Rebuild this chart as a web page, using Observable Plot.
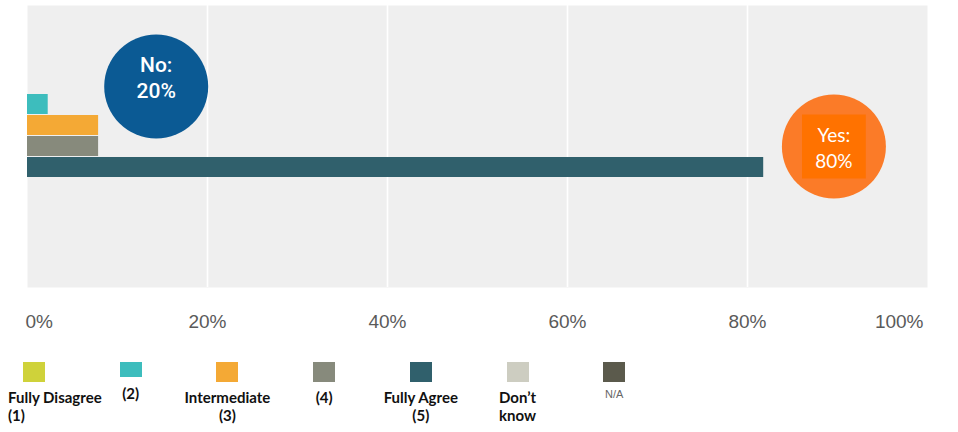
<!DOCTYPE html>
<html>
<head>
<meta charset="utf-8">
<script src="https://cdn.jsdelivr.net/npm/d3@7"></script>
<script src="https://cdn.jsdelivr.net/npm/@observablehq/plot@0.6"></script>
<style>
  html, body { margin: 0; padding: 0; background: #fff; }
  #chart { width: 958px; }
  #legend { position: relative; width: 958px; height: 87px; }
  .sw { position: absolute; top: 17px; width: 22px; height: 20px; }
  .lab { position: absolute; top: 43px; width: 130px; text-align: center;
         font-family: Lato, "Open Sans", sans-serif; font-weight: 700; font-size: 15px;
         line-height: 18px; color: #111; white-space: pre; }
</style>
</head>
<body>
<div id="chart"></div>
<div id="legend"></div>
<script>
// ---- data ----
const categories = ["Fully Disagree (1)", "(2)", "Intermediate (3)", "(4)", "Fully Agree (5)", "Don't know", "N/A"];
const legendLabels = ["Fully Disagree\n(1)", "(2)", "Intermediate\n(3)", "(4)", "Fully Agree\n(5)", "Don’t\nknow", "N/A"];
const values = [0, 2.3, 7.9, 7.9, 81.8, 0, 0];
const colors = ["#cfd23a", "#3dbdbd", "#f4a935", "#878a7c", "#30606c", "#cdcdc1", "#5b5a4c"];
const xTicks = [0, 20, 40, 60, 80, 100];
const gridTicks = [20, 40, 60, 80];
const callouts = [
  {label: "No:\n20%", x: 14.3, row: "Fully Disagree (1)"},
  {label: "Yes:\n80%", x: 89.6, row: "(4)"}
];

const rows = categories.map((c, i) => ({category: c, value: values[i]}));

const fmt = d => d + "%";
const axisStyle = {tickSize: 0, tickPadding: 27, fontSize: 19, fontWeight: 500, fill: "#5a5a5a", fontFamily: "'Liberation Sans', Arial, sans-serif", tickFormat: fmt, label: null};

const plot = Plot.plot({
  width: 958,
  height: 345,
  marginTop: 5,
  marginBottom: 58,
  marginLeft: 27,
  marginRight: 31,
  style: {background: "#fff", fontFamily: "'Liberation Sans', Arial, sans-serif"},
  x: {domain: [0, 100], axis: null},
  y: {domain: categories, axis: null, paddingInner: 0.06, paddingOuter: 3.12},
  color: {domain: categories, range: colors},
  marks: [
    Plot.frame({fill: "#efefef", stroke: null}),
    Plot.gridX(gridTicks, {stroke: "#fff", strokeOpacity: 1, strokeWidth: 1.6}),
    Plot.barX(rows, {y: "category", x: "value", fill: "category"}),
    // No callout
    Plot.dot([callouts[0]], {x: "x", y: "row", dy: 3, r: 52, fill: "#0b5a94", stroke: null}),
    Plot.text([callouts[0]], {x: "x", y: "row", dy: -7, text: "label", fill: "#fff", fontSize: 21, fontWeight: 500, lineHeight: 1.25, fontFamily: "Roboto, sans-serif"}),
    // Yes callout
    Plot.dot([callouts[1]], {x: "x", y: "row", r: 52, fill: "#fb7b28", stroke: null}),
    Plot.dot([callouts[1]], {x: "x", y: "row", r: 36, symbol: "square", fill: "#ff7200", stroke: null}),
    Plot.text([callouts[1]], {x: "x", y: "row", text: "label", fill: "#fff", fontSize: 19, lineHeight: 1.35, fontFamily: "Lato, 'Open Sans', sans-serif"}),
    // axis tick labels
    Plot.axisX([xTicks[0]], {...axisStyle, textAnchor: "start", dx: -2}),
    Plot.axisX(xTicks.slice(1, -1), {...axisStyle}),
    Plot.axisX([xTicks[xTicks.length - 1]], {...axisStyle, textAnchor: "end", dx: -4})
  ]
});
document.getElementById("chart").appendChild(plot);

// ---- legend ----
const legend = document.getElementById("legend");
categories.forEach((c, i) => {
  const left = 23 + i * 96.7;
  const sw = document.createElement("div");
  sw.className = "sw";
  sw.style.left = left + "px";
  sw.style.background = colors[i];
  if (i === 1) sw.style.height = "15px";
  legend.appendChild(sw);
  const lab = document.createElement("div");
  lab.className = "lab";
  lab.textContent = legendLabels[i];
  if (i === 0) { lab.style.left = "8px"; lab.style.textAlign = "left"; }
  else lab.style.left = (left + 11 - 65) + "px";
  if (i === 1) lab.style.top = "39px";
  if (i === 6) {
    lab.style.fontFamily = "'Liberation Sans', Arial, sans-serif";
    lab.style.fontWeight = "400";
    lab.style.fontSize = "11px";
    lab.style.color = "#666";
    lab.style.top = "40px";
  }
  legend.appendChild(lab);
});
</script>
</body>
</html>
